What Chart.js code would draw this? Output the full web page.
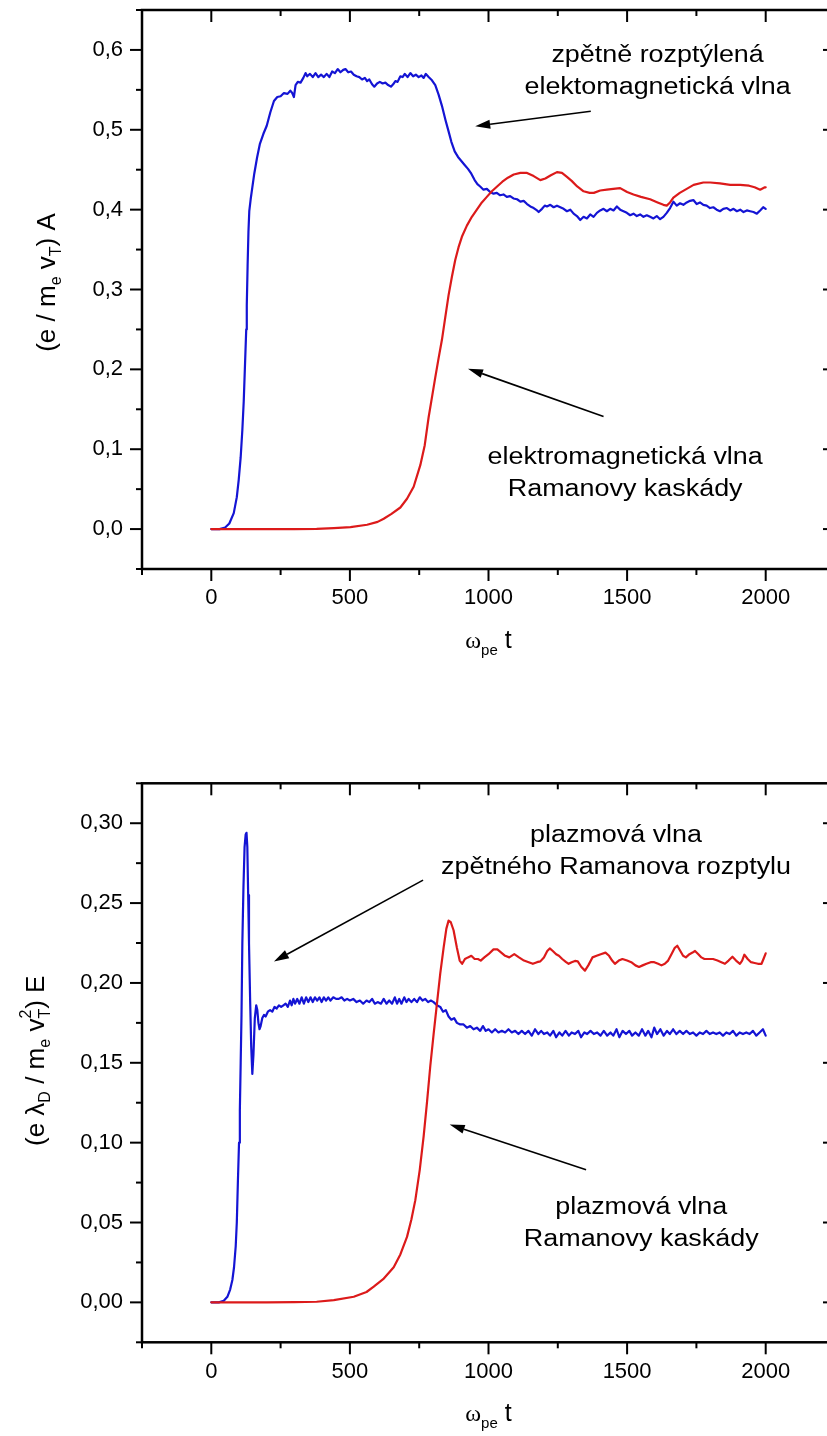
<!DOCTYPE html>
<html lang="cs">
<head>
<meta charset="utf-8">
<title>Ramanova kaskáda</title>
<script src="https://cdn.jsdelivr.net/npm/chart.js@4.4.1/dist/chart.umd.min.js"></script>
<style>
  html, body { margin: 0; padding: 0; background: #fff; overflow: hidden; }
  #obal { position: relative; width: 827px; height: 1436px; overflow: hidden; }
  canvas { position: absolute; left: 0; }
</style>
</head>
<body>
<div id="obal">
  <canvas id="graf-a" width="860" height="700" style="top:0px;width:860px;height:700px"></canvas>
  <canvas id="graf-e" width="860" height="736" style="top:700px;width:860px;height:736px"></canvas>
</div>
<script>
// osa x (omega_pe t) a popisky
const popiskyX = [0, 500, 1000, 1500, 2000];
const popiskyA = [0, 0.1, 0.2, 0.3, 0.4, 0.5, 0.6];
const popiskyE = [0, 0.05, 0.1, 0.15, 0.2, 0.25, 0.3];

// horni graf: amplituda A, zpetne rozptylena vlna (modra)
const tAZpetna = [0, 30, 50, 65, 81, 92, 99, 106, 112, 117, 121, 126, 128, 131, 134, 137, 142, 148, 155, 165, 175,
  188, 200, 213, 226, 238, 250, 262, 275, 285, 292, 298, 304, 312, 322, 332, 340, 346, 356, 366, 376,
  386, 396, 406, 416, 426, 436, 446, 456, 466, 476, 484, 494, 504, 514, 524, 534, 544, 554, 562, 570,
  580, 588, 598, 608, 618, 628, 638, 648, 656, 664, 672, 682, 690, 698, 708, 718, 728, 738, 748, 758,
  766, 774, 784, 796, 808, 820, 832, 845, 856, 866, 878, 890, 902, 914, 926, 938, 950, 960, 970, 982,
  994, 1006, 1018, 1030, 1042, 1054, 1066, 1078, 1090, 1103, 1115, 1127, 1139, 1151, 1163, 1175, 1181, 1193, 1203, 1211,
  1223, 1235, 1247, 1259, 1271, 1283, 1295, 1307, 1319, 1331, 1343, 1355, 1367, 1379, 1391, 1403, 1415, 1427, 1439, 1451,
  1463, 1475, 1487, 1499, 1511, 1523, 1535, 1547, 1559, 1571, 1583, 1595, 1607, 1619, 1631, 1643, 1655, 1667, 1679, 1691,
  1703, 1715, 1727, 1739, 1751, 1763, 1775, 1787, 1799, 1811, 1823, 1835, 1847, 1860, 1872, 1884, 1896, 1908, 1920, 1932,
  1944, 1956, 1968, 1980, 1991, 2000];
const aZpetna = [0, 0, 0.002, 0.007, 0.02, 0.04, 0.062, 0.09, 0.124, 0.16, 0.2, 0.25, 0.28, 0.33, 0.372, 0.398, 0.413, 0.428, 0.445, 0.465, 0.482,
  0.495, 0.505, 0.522, 0.536, 0.541, 0.542, 0.546, 0.545, 0.549, 0.546, 0.541, 0.556, 0.56, 0.559, 0.565, 0.571, 0.567, 0.57, 0.566, 0.571,
  0.566, 0.569, 0.566, 0.57, 0.566, 0.573, 0.571, 0.576, 0.572, 0.575, 0.576, 0.572, 0.573, 0.569, 0.567, 0.566, 0.563, 0.565, 0.561, 0.563,
  0.557, 0.554, 0.558, 0.56, 0.558, 0.559, 0.556, 0.554, 0.557, 0.561, 0.56, 0.567, 0.566, 0.57, 0.566, 0.571, 0.567, 0.569, 0.566, 0.568,
  0.565, 0.57, 0.566, 0.562, 0.556, 0.544, 0.53, 0.512, 0.498, 0.485, 0.473, 0.466, 0.461, 0.456, 0.451, 0.445, 0.437, 0.432, 0.429, 0.425,
  0.426, 0.422, 0.42, 0.421, 0.418, 0.419, 0.416, 0.417, 0.414, 0.413, 0.41, 0.411, 0.407, 0.404, 0.402, 0.399, 0.397, 0.401, 0.405, 0.404,
  0.406, 0.403, 0.405, 0.403, 0.401, 0.398, 0.4, 0.395, 0.392, 0.387, 0.391, 0.389, 0.394, 0.391, 0.396, 0.399, 0.401, 0.398, 0.401, 0.399,
  0.404, 0.4, 0.398, 0.396, 0.393, 0.395, 0.392, 0.394, 0.391, 0.393, 0.391, 0.389, 0.392, 0.388, 0.391, 0.396, 0.402, 0.41, 0.405, 0.408,
  0.406, 0.409, 0.411, 0.412, 0.407, 0.409, 0.406, 0.405, 0.402, 0.403, 0.4, 0.398, 0.401, 0.402, 0.399, 0.401, 0.398, 0.4, 0.397, 0.399,
  0.398, 0.397, 0.395, 0.399, 0.403, 0.401];

// horni graf: elektromagneticka vlna Ramanovy kaskady (cervena)
const tAKaskada = [0, 100, 200, 300, 380, 442, 502, 562, 600, 622, 650, 682, 706, 730, 754, 770, 784, 796, 808, 820,
  832, 844, 856, 868, 880, 892, 904, 922, 940, 958, 976, 994, 1012, 1031, 1050, 1070, 1091, 1115, 1139, 1163,
  1187, 1205, 1225, 1247, 1265, 1283, 1300, 1320, 1343, 1365, 1380, 1403, 1427, 1450, 1475, 1500, 1523, 1550, 1583, 1610,
  1631, 1643, 1655, 1667, 1690, 1715, 1740, 1775, 1800, 1835, 1872, 1908, 1940, 1960, 1980, 1997, 2000];
const aKaskada = [0, 0, 0, 0, 0.0003, 0.0012, 0.0025, 0.0054, 0.009, 0.013, 0.019, 0.027, 0.038, 0.053, 0.08, 0.105, 0.14, 0.165, 0.19, 0.214,
  0.237, 0.265, 0.293, 0.316, 0.337, 0.353, 0.366, 0.38, 0.391, 0.4, 0.409, 0.416, 0.423, 0.429, 0.435, 0.44, 0.444, 0.446, 0.446, 0.442,
  0.437, 0.439, 0.443, 0.447, 0.446, 0.441, 0.436, 0.429, 0.423, 0.421, 0.421, 0.424, 0.425, 0.426, 0.427, 0.422, 0.419, 0.416, 0.413, 0.409,
  0.406, 0.405, 0.409, 0.415, 0.421, 0.426, 0.431, 0.434, 0.434, 0.433, 0.431, 0.431, 0.43, 0.428, 0.425, 0.428, 0.428];

// dolni graf: pole E, plazmova vlna zpetneho rozptylu (modra)
const tEZpetna = [0, 27, 45, 58, 68, 76, 82, 88, 92, 96, 100, 103, 106, 109, 112, 116, 120, 124, 127, 130,
  133, 136, 140, 144, 148, 152, 157, 162, 166, 170, 174, 178, 184, 190, 196, 204, 212, 220, 228, 236,
  244, 252, 260, 268, 276, 284, 290, 296, 302, 310, 318, 326, 334, 342, 350, 358, 366, 374, 382, 390,
  398, 406, 414, 422, 430, 440, 450, 460, 470, 480, 490, 500, 512, 524, 536, 548, 560, 570, 580, 590,
  600, 612, 622, 632, 642, 652, 662, 670, 678, 686, 696, 704, 712, 722, 732, 742, 752, 762, 772, 782,
  792, 802, 814, 826, 836, 846, 856, 866, 876, 886, 898, 910, 922, 934, 946, 958, 970, 980, 990, 1000,
  1012, 1024, 1036, 1048, 1060, 1072, 1084, 1096, 1108, 1120, 1132, 1144, 1156, 1168, 1180, 1190, 1200, 1212, 1222, 1234,
  1244, 1256, 1266, 1278, 1290, 1300, 1312, 1324, 1334, 1346, 1356, 1368, 1380, 1392, 1404, 1416, 1428, 1440, 1450, 1462,
  1472, 1484, 1496, 1508, 1518, 1530, 1542, 1554, 1566, 1576, 1588, 1598, 1608, 1620, 1632, 1644, 1654, 1666, 1678, 1690,
  1702, 1714, 1726, 1738, 1750, 1762, 1774, 1786, 1798, 1810, 1822, 1834, 1846, 1858, 1870, 1882, 1894, 1906, 1918, 1930,
  1942, 1954, 1966, 1978, 1990, 2000];
const eZpetna = [0, 0, 0.001, 0.0035, 0.008, 0.014, 0.022, 0.035, 0.05, 0.076, 0.1, 0.12, 0.15, 0.18, 0.225, 0.26, 0.285, 0.293, 0.294, 0.285,
  0.255, 0.225, 0.19, 0.16, 0.143, 0.155, 0.178, 0.186, 0.183, 0.175, 0.171, 0.173, 0.178, 0.18, 0.179, 0.182, 0.183, 0.182, 0.185, 0.184,
  0.186, 0.185, 0.186, 0.187, 0.185, 0.189, 0.186, 0.19, 0.187, 0.19, 0.187, 0.191, 0.187, 0.191, 0.188, 0.191, 0.188, 0.191, 0.189, 0.191,
  0.188, 0.191, 0.189, 0.191, 0.189, 0.191, 0.19, 0.19, 0.191, 0.189, 0.19, 0.189, 0.19, 0.188, 0.189, 0.187, 0.189, 0.188, 0.19, 0.187,
  0.188, 0.187, 0.19, 0.187, 0.189, 0.187, 0.191, 0.187, 0.19, 0.187, 0.191, 0.188, 0.19, 0.188, 0.19, 0.188, 0.191, 0.189, 0.19, 0.188,
  0.189, 0.188, 0.186, 0.185, 0.182, 0.183, 0.179, 0.177, 0.178, 0.175, 0.174, 0.174, 0.172, 0.173, 0.171, 0.172, 0.17, 0.173, 0.17, 0.171,
  0.169, 0.171, 0.169, 0.17, 0.169, 0.171, 0.169, 0.17, 0.168, 0.17, 0.168, 0.17, 0.167, 0.171, 0.168, 0.17, 0.168, 0.169, 0.167, 0.17,
  0.166, 0.169, 0.167, 0.17, 0.167, 0.169, 0.168, 0.17, 0.166, 0.169, 0.168, 0.17, 0.168, 0.169, 0.167, 0.17, 0.167, 0.169, 0.167, 0.171,
  0.166, 0.17, 0.168, 0.17, 0.167, 0.169, 0.167, 0.171, 0.167, 0.17, 0.166, 0.172, 0.168, 0.171, 0.167, 0.17, 0.168, 0.171, 0.168, 0.17,
  0.168, 0.17, 0.168, 0.169, 0.167, 0.169, 0.168, 0.17, 0.168, 0.169, 0.168, 0.169, 0.167, 0.169, 0.168, 0.17, 0.167, 0.169, 0.168, 0.169,
  0.168, 0.17, 0.167, 0.169, 0.171, 0.167];

// dolni graf: plazmova vlna Ramanovy kaskady (cervena)
const tEKaskada = [0, 100, 200, 300, 380, 442, 514, 560, 586, 620, 658, 682, 706, 722, 736, 752, 766, 778, 790, 802,
  814, 826, 838, 848, 856, 864, 874, 886, 896, 905, 915, 926, 938, 950, 962, 972, 985, 1000, 1018, 1032,
  1046, 1060, 1075, 1093, 1110, 1128, 1145, 1160, 1175, 1187, 1200, 1212, 1221, 1232, 1244, 1254, 1266, 1280, 1289, 1300,
  1312, 1322, 1335, 1348, 1360, 1375, 1390, 1405, 1422, 1435, 1446, 1456, 1470, 1483, 1500, 1515, 1530, 1543, 1556, 1570,
  1585, 1598, 1612, 1624, 1636, 1648, 1660, 1672, 1681, 1692, 1702, 1712, 1725, 1736, 1745, 1757, 1768, 1779, 1795, 1810,
  1826, 1840, 1853, 1866, 1880, 1893, 1907, 1915, 1923, 1935, 1947, 1960, 1972, 1985, 1992, 2000];
const eKaskada = [0, 0, 0, 0.0001, 0.0004, 0.0014, 0.0035, 0.0065, 0.0098, 0.0145, 0.022, 0.03, 0.041, 0.052, 0.064, 0.083, 0.104, 0.125, 0.148, 0.168,
  0.187, 0.206, 0.222, 0.234, 0.239, 0.238, 0.233, 0.222, 0.214, 0.212, 0.215, 0.216, 0.217, 0.215, 0.215, 0.214, 0.216, 0.218, 0.221, 0.221,
  0.219, 0.217, 0.216, 0.218, 0.216, 0.214, 0.213, 0.212, 0.213, 0.2135, 0.216, 0.22, 0.2216, 0.22, 0.218, 0.217, 0.215, 0.213, 0.212, 0.213,
  0.2138, 0.2135, 0.21, 0.2077, 0.211, 0.216, 0.217, 0.218, 0.219, 0.217, 0.214, 0.212, 0.214, 0.215, 0.214, 0.213, 0.211, 0.21, 0.211, 0.212,
  0.213, 0.213, 0.212, 0.211, 0.212, 0.214, 0.218, 0.222, 0.2233, 0.22, 0.217, 0.216, 0.218, 0.219, 0.22, 0.218, 0.216, 0.215, 0.215, 0.215,
  0.214, 0.213, 0.212, 0.214, 0.2164, 0.214, 0.212, 0.214, 0.2177, 0.215, 0.213, 0.2125, 0.212, 0.212, 0.215, 0.2185];

const MODRA = '#1414d4';
const CERVENA = '#dc1a1a';
const PISMO = "'Liberation Sans', Arial, Helvetica, sans-serif";
const PISMO_SERIF = "'Liberation Serif', 'Times New Roman', serif";

// rozlozeni: plocha grafu v pixelech platna
const NASTAVENI = {
  'graf-a': {
    plocha: { left: 142, top: 10, right: 835, bottom: 569 },
    vyska: 700,
    osaY: { min: -0.05, max: 0.65, krok: 0.05, popisky: popiskyA, desetinna: 1 },
    titulY: {
      x: 55, posun: -7,
      casti: [
        { t: '(e / m', s: 26 }, { t: 'e', s: 16, dy: 6 }, { t: ' v', s: 26 },
        { t: 'T', s: 16, dy: 6 }, { t: ') A', s: 26 }
      ]
    },
    popisky: [
      { radky: ['zpětně rozptýlená', 'elektomagnetická vlna'], x: 1610, y: [0.5847, 0.5442] },
      { radky: ['elektromagnetická vlna', 'Ramanovy kaskády'], x: 1493, y: [0.0818, 0.0409] }
    ],
    sipky: [
      { od: [1369, 0.5233], k: [952, 0.5045] },
      { od: [1415, 0.1411], k: [926, 0.2009] }
    ]
  },
  'graf-e': {
    plocha: { left: 142, top: 83.3, right: 835, bottom: 642.3 },
    vyska: 736,
    osaY: { min: -0.025, max: 0.325, krok: 0.025, popisky: popiskyE, desetinna: 2 },
    titulY: {
      x: 44, posun: -2,
      casti: [
        { t: '(e ', s: 26 }, { t: 'λ', s: 26 }, { t: 'D', s: 16, dy: 6 }, { t: ' / m', s: 26 },
        { t: 'e', s: 16, dy: 6 }, { t: ' v', s: 26 }, { t: 'T', s: 16, dy: 6, nad: true },
        { t: '2', s: 16, dy: -13 }, { t: ') E', s: 26 }
      ]
    },
    popisky: [
      { radky: ['plazmová vlna', 'zpětného Ramanova rozptylu'], x: 1460, y: [0.2885, 0.2681] },
      { radky: ['plazmová vlna', 'Ramanovy kaskády'], x: 1551, y: [0.0556, 0.0354] }
    ],
    sipky: [
      { od: [764, 0.2644], k: [226, 0.2135] },
      { od: [1352, 0.0831], k: [860, 0.1113] }
    ]
  }
};

const TITUL_X = [
  { t: 'ω', s: 24, f: PISMO_SERIF }, { t: 'pe', s: 15, dy: 7 }, { t: ' t', s: 25 }
];

function body(tt, vv) {
  return tt.map((t, i) => ({ x: t, y: vv[i] }));
}

function jePopisek(v, seznam) {
  return seznam.some((p) => Math.abs(p - v) < 1e-6);
}

function sirkaCasti(ctx, casti) {
  let w = 0;
  let drzeno = 0;
  casti.forEach((c) => {
    ctx.font = `${c.s}px ${c.f || PISMO}`;
    const m = ctx.measureText(c.t).width;
    if (c.nad) { drzeno = m; return; }
    w += Math.max(m, drzeno);
    drzeno = 0;
  });
  return w;
}

function kresliCasti(ctx, casti, x0, y0) {
  let x = x0 - sirkaCasti(ctx, casti) / 2;
  let drzeno = 0;
  casti.forEach((c) => {
    ctx.font = `${c.s}px ${c.f || PISMO}`;
    ctx.fillText(c.t, x, y0 + (c.dy || 0));
    const m = ctx.measureText(c.t).width;
    if (c.nad) { drzeno = m; return; }
    x += Math.max(m, drzeno);
    drzeno = 0;
  });
}

function cara(ctx, x1, y1, x2, y2) {
  ctx.beginPath();
  ctx.moveTo(x1, y1);
  ctx.lineTo(x2, y2);
  ctx.stroke();
}

const ramecek = {
  id: 'ramecek',
  afterDraw(chart) {
    const cfg = NASTAVENI[chart.canvas.id];
    const { ctx, chartArea: a } = chart;
    const sx = chart.scales.x;
    const sy = chart.scales.y;
    ctx.save();
    ctx.strokeStyle = '#000';
    ctx.fillStyle = '#000';

    // carky na osach (dole a vlevo ven, nahore a vpravo dovnitr)
    ctx.lineWidth = 2;
    sx.ticks.forEach((t) => {
      const px = sx.getPixelForValue(t.value);
      const d = jePopisek(t.value, popiskyX) ? 12 : 6;
      cara(ctx, px, a.bottom, px, a.bottom + d);
      cara(ctx, px, a.top, px, a.top + d);
    });
    sy.ticks.forEach((t) => {
      const py = sy.getPixelForValue(t.value);
      const d = jePopisek(t.value, cfg.osaY.popisky) ? 12 : 6;
      cara(ctx, a.left - d, py, a.left, py);
      cara(ctx, a.right - d, py, a.right, py);
    });
    ctx.lineWidth = 2.5;
    ctx.strokeRect(a.left, a.top, a.right - a.left, a.bottom - a.top);

    // nazvy os
    ctx.textAlign = 'left';
    ctx.textBaseline = 'alphabetic';
    kresliCasti(ctx, TITUL_X, (a.left + a.right) / 2, a.bottom + 79);
    ctx.save();
    ctx.translate(cfg.titulY.x, (a.top + a.bottom) / 2 + cfg.titulY.posun);
    ctx.rotate(-Math.PI / 2);
    kresliCasti(ctx, cfg.titulY.casti, 0, 0);
    ctx.restore();

    // popisky krivek
    ctx.font = `23px ${PISMO}`;
    ctx.textAlign = 'center';
    cfg.popisky.forEach((p) => {
      const px = sx.getPixelForValue(p.x);
      p.radky.forEach((r, i) => {
        ctx.save();
        ctx.translate(px, sy.getPixelForValue(p.y[i]));
        ctx.scale(1.17, 1);
        ctx.fillText(r, 0, 0);
        ctx.restore();
      });
    });

    // sipky
    ctx.lineWidth = 1.6;
    cfg.sipky.forEach((s) => {
      const x1 = sx.getPixelForValue(s.od[0]);
      const y1 = sy.getPixelForValue(s.od[1]);
      const x2 = sx.getPixelForValue(s.k[0]);
      const y2 = sy.getPixelForValue(s.k[1]);
      const uhel = Math.atan2(y2 - y1, x2 - x1);
      const delka = 15;
      const pul = 4.5;
      const bx = x2 - delka * Math.cos(uhel);
      const by = y2 - delka * Math.sin(uhel);
      cara(ctx, x1, y1, bx, by);
      ctx.beginPath();
      ctx.moveTo(x2, y2);
      ctx.lineTo(bx + pul * Math.sin(uhel), by - pul * Math.cos(uhel));
      ctx.lineTo(bx - pul * Math.sin(uhel), by + pul * Math.cos(uhel));
      ctx.closePath();
      ctx.fill();
    });
    ctx.restore();
  }
};

Chart.defaults.font.family = PISMO;
Chart.defaults.color = '#000';

function vytvorGraf(id, datasety) {
  const cfg = NASTAVENI[id];
  const oy = cfg.osaY;
  const canvas = document.getElementById(id);
  return new Chart(canvas.getContext('2d'), {
    type: 'scatter',
    data: { datasets: datasety },
    options: {
      responsive: false,
      devicePixelRatio: 1,
      animation: false,
      events: [],
      layout: { padding: { top: cfg.plocha.top, right: 860 - cfg.plocha.right, left: 0, bottom: 0 } },
      plugins: { legend: { display: false }, tooltip: { enabled: false } },
      elements: { point: { radius: 0 }, line: { tension: 0, borderJoinStyle: 'round', borderCapStyle: 'round' } },
      scales: {
        x: {
          type: 'linear',
          min: -250,
          max: 2250,
          grid: { display: false, drawTicks: false },
          border: { display: false },
          ticks: {
            stepSize: 250,
            autoSkip: false,
            maxRotation: 0,
            padding: 16,
            font: { size: 22 },
            callback: (v) => (jePopisek(v, popiskyX) ? String(Math.round(v)) : '')
          },
          afterFit: (s) => {
            s.height = cfg.vyska - cfg.plocha.bottom;
            s.paddingLeft = 0;
            s.paddingRight = 0;
          }
        },
        y: {
          type: 'linear',
          min: oy.min,
          max: oy.max,
          grid: { display: false, drawTicks: false },
          border: { display: false },
          ticks: {
            stepSize: oy.krok,
            autoSkip: false,
            padding: 19,
            font: { size: 22 },
            callback: (v) => (jePopisek(v, oy.popisky) ? v.toFixed(oy.desetinna).replace('.', ',') : '')
          },
          afterFit: (s) => {
            s.width = cfg.plocha.left;
            s.paddingTop = 0;
            s.paddingBottom = 0;
          }
        }
      }
    },
    plugins: [ramecek]
  });
}

function serie(data, barva) {
  return { data, borderColor: barva, backgroundColor: barva, borderWidth: 2.2, showLine: true, pointRadius: 0, fill: false };
}

vytvorGraf('graf-a', [
  serie(body(tAKaskada, aKaskada), CERVENA),
  serie(body(tAZpetna, aZpetna), MODRA)
]);

vytvorGraf('graf-e', [
  serie(body(tEKaskada, eKaskada), CERVENA),
  serie(body(tEZpetna, eZpetna), MODRA)
]);
</script>
</body>
</html>
